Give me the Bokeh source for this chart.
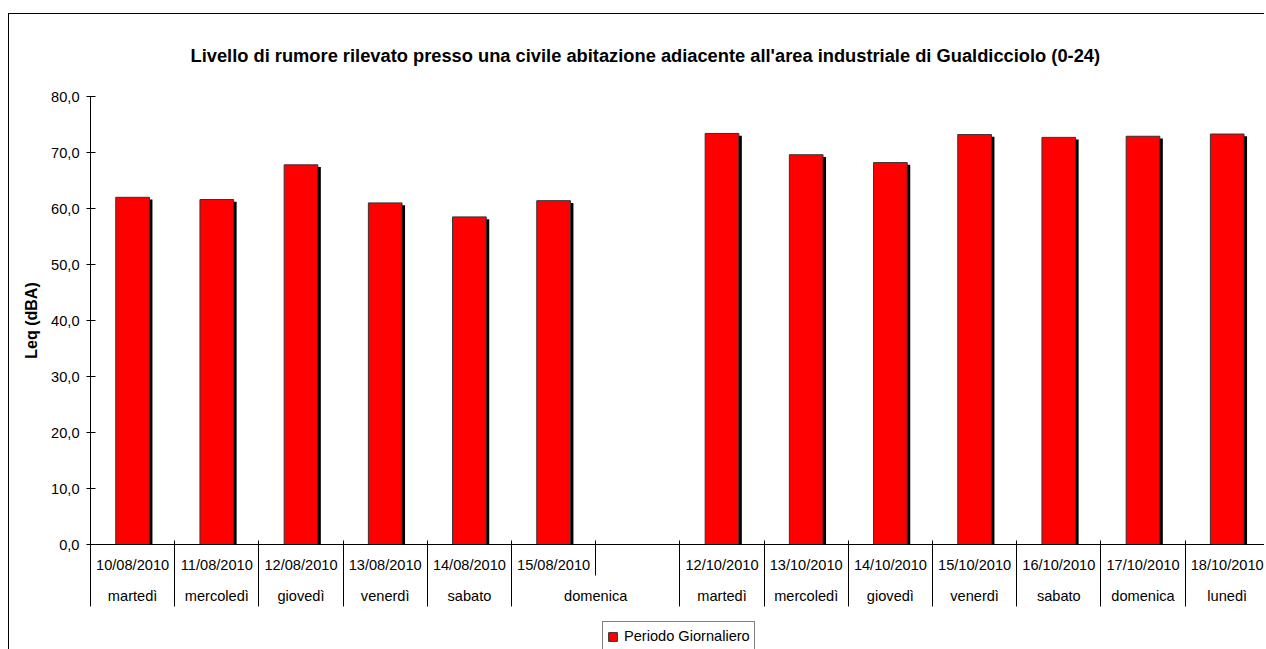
from bokeh.plotting import figure
from bokeh.layouts import column
from bokeh.models import (Range1d, FixedTicker, CustomJSTickFormatter, LinearAxis,
                          ColumnDataSource, Legend, LegendItem)
from bokeh.transform import dodge
from bokeh.embed import file_html
from bokeh.resources import INLINE

# ---------------- data ----------------
title_text = "Livello di rumore rilevato presso  una civile abitazione adiacente all'area industriale di Gualdicciolo (0-24)"
y_label = "Leq (dBA)"
series_name = "Periodo Giornaliero"

dates_aug = ["10/08/2010", "11/08/2010", "12/08/2010", "13/08/2010", "14/08/2010", "15/08/2010"]
days_aug = ["martedì", "mercoledì", "giovedì", "venerdì", "sabato", "domenica"]
leq_aug = [62.0, 61.6, 67.8, 61.0, 58.5, 61.4]

dates_oct = ["12/10/2010", "13/10/2010", "14/10/2010", "15/10/2010", "16/10/2010", "17/10/2010", "18/10/2010"]
days_oct = ["martedì", "mercoledì", "giovedì", "venerdì", "sabato", "domenica", "lunedì"]
leq_oct = [73.4, 69.6, 68.2, 73.2, 72.7, 72.9, 73.3]

y_ticks = [0, 10, 20, 30, 40, 50, 60, 70, 80]

# ---------------- categories (one empty slot merged into "domenica") ----------------
slot_dates = dates_aug + [""] + dates_oct
slot_days = days_aug + [days_aug[-1]] + days_oct
slot_leq = leq_aug + [None] + leq_oct
n_slots = len(slot_dates)

groups = []
for i, d in enumerate(slot_days):
    if groups and groups[-1][0] == d:
        groups[-1][2] = i + 1
    else:
        groups.append([d, i, i + 1])
long_b = sorted({g[1] for g in groups} | {g[2] for g in groups})
all_b = list(range(n_slots + 1))
date_centers = [i + 0.5 for i, d in enumerate(slot_dates) if d]
day_centers = [(g[1] + g[2]) / 2 for g in groups]
day_names = [g[0] for g in groups]

bar_x = [i + 0.5 for i, v in enumerate(slot_leq) if v is not None]
bar_top = [v for v in slot_leq if v is not None]
bars = ColumnDataSource(dict(x=bar_x, top=bar_top, shadow_top=[v - 0.4 for v in bar_top]))

FONT = "Liberation Sans"
PX_PER_SLOT = 84.2
W = 1255
LEFT, TOP, FRAME_H, BOTTOM = 81, 82, 448, 68
ROW = 32  # height of one category row in px
LEG_H = 37

p = figure(width=W, height=TOP + FRAME_H + BOTTOM,
           x_range=Range1d(0, (W - LEFT) / PX_PER_SLOT), y_range=Range1d(0, 80),
           output_backend="svg", toolbar_location=None,
           x_axis_type=None, y_axis_type=None,
           min_border_left=LEFT, min_border_right=0, min_border_top=TOP, min_border_bottom=BOTTOM,
           outline_line_color=None, background_fill_color="white", border_fill_color="white")

p.title.text = title_text
p.title.align = "left"
p.title.vertical_align = "top"
p.title.offset = 100
p.title.standoff = 58
p.title.text_font = FONT
p.title.text_font_size = "18.3px"
p.title.text_font_style = "bold"
p.title.text_color = "black"

# shadow bars then front bars
p.vbar(x=dodge("x", 3 / PX_PER_SLOT, range=p.x_range), top="shadow_top", bottom=0,
       width=0.4, source=bars, fill_color="black", line_color=None)
p.vbar(x="x", top="top", bottom=0, width=0.4, source=bars,
       fill_color="#FF0000", line_color="#333333", line_width=1)

yaxis = LinearAxis(ticker=FixedTicker(ticks=y_ticks),
                   formatter=CustomJSTickFormatter(code="return tick.toFixed(1).replace('.', ',');"),
                   axis_label=y_label, axis_label_text_font=FONT, axis_label_text_font_size="16px",
                   axis_label_text_font_style="bold", axis_label_standoff=8,
                   axis_label_text_color="black",
                   major_label_text_font=FONT, major_label_text_font_size="14.6px",
                   major_label_text_color="black", major_label_standoff=7,
                   major_tick_in=5, major_tick_out=4, minor_tick_in=0, minor_tick_out=0,
                   axis_line_color="black", major_tick_line_color="black")
p.add_layout(yaxis, "left")

# category axis, row 1: dates (baseline + small ticks above it)
date_axis = LinearAxis(ticker=FixedTicker(ticks=date_centers, minor_ticks=all_b),
                       formatter=CustomJSTickFormatter(args=dict(labels=slot_dates),
                                                       code="return labels[Math.floor(tick)] || '';"),
                       major_label_text_font=FONT, major_label_text_font_size="14.6px",
                       major_label_text_color="black", major_label_standoff=12,
                       major_tick_in=0, major_tick_out=0, minor_tick_in=4, minor_tick_out=0,
                       axis_line_color="black", minor_tick_line_color="black")
p.add_layout(date_axis, "below")

# category axis, row 2: weekdays; its ticks reach up through the date row
day_axis = LinearAxis(ticker=FixedTicker(ticks=day_centers, minor_ticks=all_b),
                      formatter=CustomJSTickFormatter(args=dict(labels=day_names, centers=day_centers),
                                                      code="const i = centers.indexOf(tick); return i >= 0 ? labels[i] : '';"),
                      major_label_text_font=FONT, major_label_text_font_size="14.6px",
                      major_label_text_color="black", major_label_standoff=12,
                      major_tick_in=0, major_tick_out=0, minor_tick_in=ROW, minor_tick_out=0,
                      axis_line_color=None, minor_tick_line_color="black")
p.add_layout(day_axis, "below")

# closing row: long separators reach up through the weekday row
sep_axis = LinearAxis(ticker=FixedTicker(ticks=[], minor_ticks=long_b),
                      formatter=CustomJSTickFormatter(code="return '';"),
                      major_label_text_font_size="0px", major_label_standoff=0,
                      major_tick_in=0, major_tick_out=0, minor_tick_in=ROW, minor_tick_out=0,
                      axis_line_color=None, minor_tick_line_color="black")
p.add_layout(sep_axis, "below")

# legend strip below the chart (its frame is aligned with the chart's frame)
pl = figure(width=W, height=LEG_H, x_range=Range1d(-10, -9), y_range=Range1d(-10, -9),
            output_backend="svg", toolbar_location=None, x_axis_type=None, y_axis_type=None,
            min_border=0, min_border_left=0, min_border_right=0, min_border_top=0, min_border_bottom=0,
            outline_line_color=None, background_fill_color="white", border_fill_color="white")
legend_bar = pl.vbar(x="x", top="top", bottom=0, width=0.4, source=bars,
                     fill_color="#FF0000", line_color="#333333", line_width=1)
legend = Legend(items=[LegendItem(label=series_name, renderers=[legend_bar])],
                location=(512, -2), orientation="vertical",
                border_line_color="black", border_line_width=1, background_fill_color="white",
                background_fill_alpha=1, label_text_font=FONT, label_text_font_size="14.6px",
                label_text_color="black", padding=4, margin=0, spacing=0,
                glyph_width=11, glyph_height=11, label_standoff=6, label_height=20)
pl.add_layout(legend)

page = column(p, pl, spacing=0)
page.margin = (13, 0, 0, 8)
page.styles = {"border-left": "1px solid black", "border-top": "1px solid black"}

open("out.html", "w").write(file_html(page, INLINE))
